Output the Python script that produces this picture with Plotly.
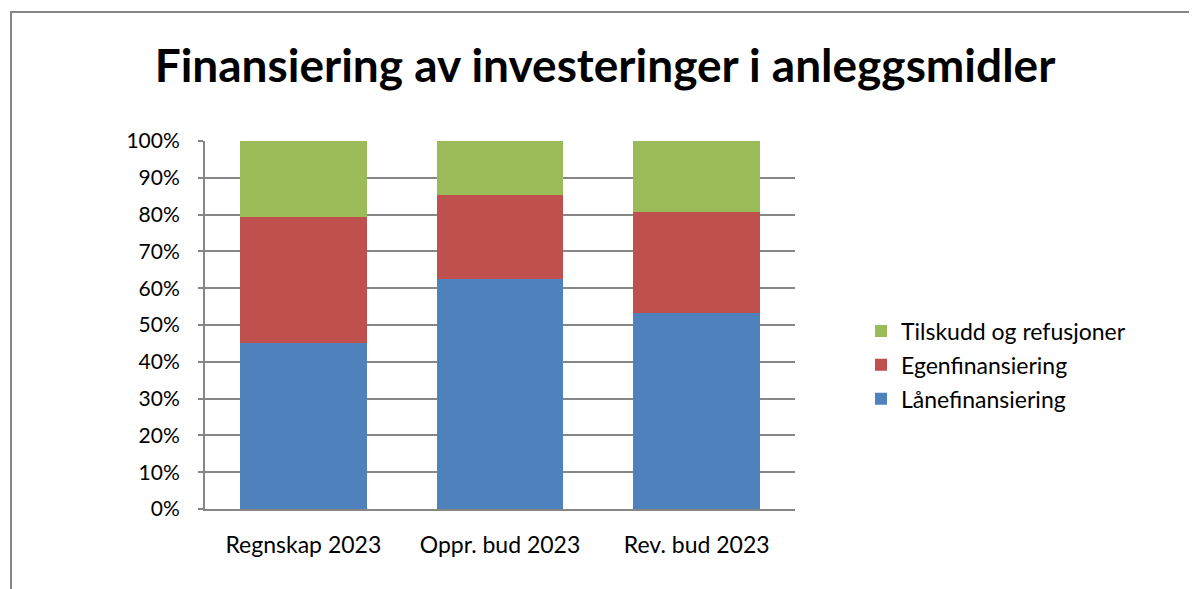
import plotly.graph_objects as go

categories = ["Regnskap 2023", "Oppr. bud 2023", "Rev. bud 2023"]
laanefinansiering = [45.0, 62.6, 53.2]
egenfinansiering = [34.3, 22.7, 27.6]
tilskudd = [20.7, 14.7, 19.2]
y_ticks = [0, 10, 20, 30, 40, 50, 60, 70, 80, 90, 100]
y_tick_labels = [f"{v}%" for v in y_ticks]

OFF = 8  # page body margin
W, H = 1197 - OFF, 589 - OFF
# plot area in image coordinates
PL, PR, PT, PB = 205, 795, 141, 509
L, R, T, B = PL - OFF, W - (PR - OFF), PT - OFF, H - (PB - OFF)

fig = go.Figure()
series = [
    ("Lånefinansiering", laanefinansiering, "#4F81BD", 3),
    ("Egenfinansiering", egenfinansiering, "#C0504D", 2),
    ("Tilskudd og refusjoner", tilskudd, "#9BBB59", 1),
]
for name, vals, col, rank in series:
    fig.add_trace(go.Bar(
        x=categories, y=vals, name=name, legendgroup=name, legendrank=rank,
        marker=dict(color=col, line=dict(width=0)),
    ))

pw = PR - PL
ph = PB - PT
def px_x(x):  # image x -> paper
    return (x - PL) / pw
def px_y(y):  # image y -> paper
    return (PB - y) / ph

fig.update_layout(
    width=W, height=H,
    margin=dict(l=L, r=R, t=T, b=B, autoexpand=False),
    barmode="stack",
    bargap=0.355,
    paper_bgcolor="white",
    plot_bgcolor="white",
    font=dict(family="Lato, Carlito, Calibri, sans-serif", color="#000000"),
    title=dict(
        text="<b>Finansiering av investeringer i anleggsmidler</b>",
        x=(605 - OFF) / W, xanchor="center",
        y=1 - (66 - OFF) / H, yanchor="middle",
        font=dict(size=46, family="Lato, sans-serif", color="#000000"),
    ),
    legend=dict(
        x=px_x(861), xanchor="left",
        y=px_y(365), yanchor="middle",
        traceorder="grouped",
        tracegroupgap=1,
        font=dict(size=23),
        itemwidth=30,
        bgcolor="rgba(0,0,0,0)",
    ),
    xaxis=dict(
        showgrid=False,
        showline=True, linecolor="#868686", linewidth=2,
        ticks="", tickfont=dict(size=23),
        ticklabelstandoff=14,
    ),
    yaxis=dict(
        range=[0, 100],
        tickvals=y_ticks, ticktext=y_tick_labels,
        showgrid=True, gridcolor="#868686", gridwidth=2,
        showline=True, linecolor="#868686", linewidth=2,
        ticks="outside", ticklen=5, tickcolor="#868686", tickwidth=2,
        tickfont=dict(size=21),
        ticklabelstandoff=14,
        zeroline=False,
    ),
    shapes=[dict(
        type="rect", xref="paper", yref="paper",
        x0=px_x(11), x1=px_x(1240), y0=px_y(640), y1=px_y(12),
        line=dict(color="#868686", width=2), fillcolor="rgba(0,0,0,0)",
        layer="below",
    )],
)

fig.write_html("out.html")
